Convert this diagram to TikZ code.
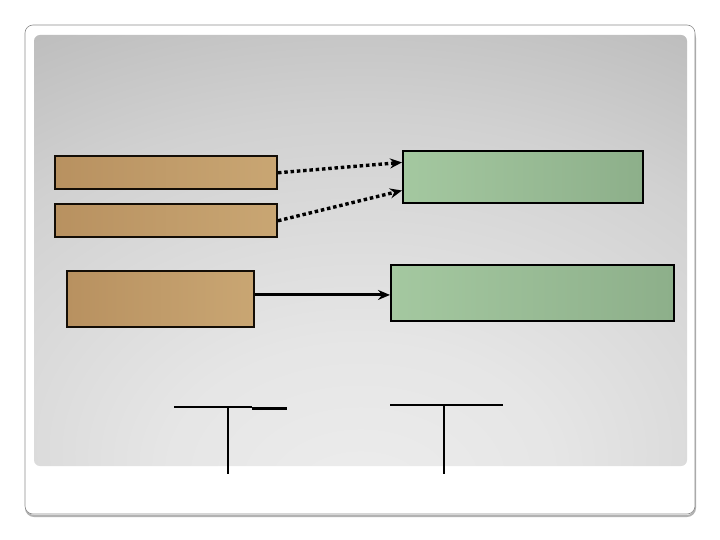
\documentclass[tikz,border=0pt]{standalone}
\usepackage{tikz}
\usetikzlibrary{positioning, calc, arrows.meta}

\pgfdeclareradialshading{slideshade}{\pgfpoint{0bp}{-30bp}}{%
  color(0bp)=(black!7); color(15bp)=(black!10); color(35bp)=(black!18);
  color(50bp)=(black!27); color(65bp)=(black!33); color(100bp)=(black!38)}

\begin{document}
\begin{tikzpicture}[x=1pt, y=-1pt,
                brownbox/.style={draw=black!90!brown, line width=2pt, minimum height=#1,
                        inner sep=0pt, anchor=north west, left color={rgb,255:red,184;green,145;blue,96},
                        right color={rgb,255:red,201;green,166;blue,115}},
                greenbox/.style={draw=black, line width=2pt, minimum height=#1,
                        inner sep=0pt, anchor=north west, left color={rgb,255:red,164;green,200;blue,160},
                        right color={rgb,255:red,141;green,175;blue,138}},
                dotarr/.style={-{Stealth[length=12pt, width=10pt, inset=4pt]}, line width=3.4pt,
                        dash pattern=on 3.5pt off 2.8pt},
                arr/.style={-{Stealth[length=12pt, width=10pt, inset=4pt]}, line width=3pt},
                tbar/.style={line width=2pt}]
                \useasboundingbox (0,0) rectangle (720,540);
                % Slide frame
                \draw[black!30, line width=2pt, rounded corners=8pt] (26,30) rectangle (695,516);
                \fill[white, rounded corners=8pt] (25,25) rectangle (695,514);
                \draw[black!45, line width=0.6pt, rounded corners=8pt] (25,25) rectangle (695,514);
                \shade[shading=slideshade, rounded corners=6pt] (34,35) rectangle (687,466);

                % Left boxes
                \node[brownbox=32.5pt, minimum width=222.5pt] (b1) at (53.5,155.5) {};
                \node[brownbox=32.5pt, minimum width=222.5pt] (b2) at (53.5,203.5) {};
                \node[brownbox=56pt, minimum width=187pt] (b3) at (66,270) {};

                % Right boxes
                \node[greenbox=52pt, minimum width=240pt] (g1) at (402,150) {};
                \node[greenbox=56pt, minimum width=283pt] (g2) at (390,264) {};

                % Arrows
                \draw[dotarr] (b1.east) -- ($(g1.north west)!0.23!(g1.south west)$);
                \draw[dotarr] (b2.east) -- ($(g1.north west)!0.75!(g1.south west)$);
                \coordinate (a3) at ($(b3.north east)!0.43!(b3.south east)$);
                \draw[arr] (a3) -- (a3 -| g2.west);

                % T marks
                \coordinate (t1) at (228,407);
                \coordinate (t2) at (444,405);
                \draw[tbar] (174,407) -- (252,407);
                \draw[line width=3pt] (252,408) -- (287,408);
                \draw[tbar] (t1) -- (228,474);
                \draw[tbar] (390,405) -- (503,405);
                \draw[tbar] (t2) -- (444,474);
            \end{tikzpicture}
\end{document}
